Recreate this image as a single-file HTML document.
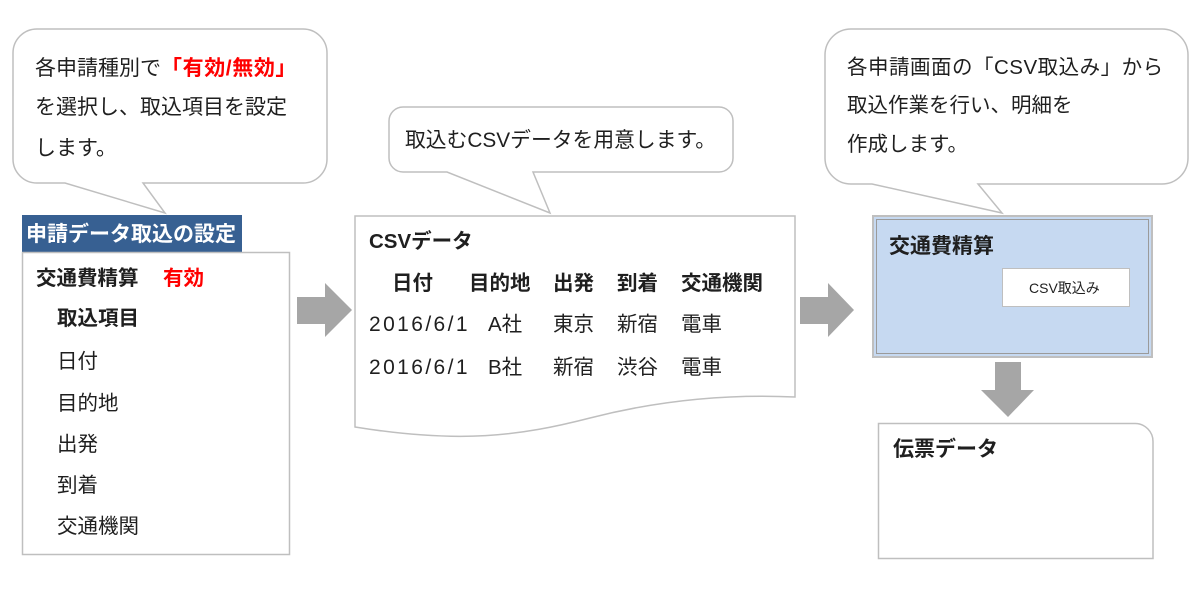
<!DOCTYPE html>
<html>
<head>
<meta charset="utf-8">
<style>
  html, body { margin: 0; padding: 0; background: #ffffff; }
  body { width: 1200px; height: 590px; overflow: hidden; }
  svg { display: block; }
  text { font-family: "Liberation Sans", "Noto Sans CJK JP", sans-serif; fill: #1f1f1f; }
  .b { font-weight: 700; }
  .red { fill: #ff0000; font-weight: 700; }
</style>
</head>
<body>
<svg width="1200" height="590" viewBox="0 0 1200 590" xmlns="http://www.w3.org/2000/svg">
  <!-- Left speech bubble -->
  <path d="M 37 29 H 303 A 24 24 0 0 1 327 53 V 159 A 24 24 0 0 1 303 183 H 143 L 165 213 L 65 183 H 37 A 24 24 0 0 1 13 159 V 53 A 24 24 0 0 1 37 29 Z"
        fill="#ffffff" stroke="#bfbfbf" stroke-width="1.5"/>
  <text x="35" y="75" font-size="21">各申請種別で<tspan class="red" style="letter-spacing:0.6px">「有効/無効」</tspan></text>
  <text x="35" y="114" font-size="21">を選択し、取込項目を設定</text>
  <text x="35" y="155" font-size="21">します。</text>

  <!-- Header -->
  <rect x="22" y="215" width="220" height="37" fill="#376092"/>
  <text x="26" y="241" font-size="21" class="b" style="fill:#ffffff">申請データ取込の設定</text>

  <!-- Left box -->
  <rect x="22.5" y="252.5" width="267" height="302" fill="#ffffff" stroke="#bfbfbf" stroke-width="1.5"/>
  <text x="36" y="285" font-size="20.5" class="b">交通費精算</text>
  <text x="163" y="285" font-size="20.5" class="red">有効</text>
  <text x="57" y="325" font-size="20.5" class="b">取込項目</text>
  <text x="57" y="368" font-size="20.5">日付</text>
  <text x="57" y="410" font-size="20.5">目的地</text>
  <text x="57" y="451" font-size="20.5">出発</text>
  <text x="57" y="492" font-size="20.5">到着</text>
  <text x="57" y="533" font-size="20.5">交通機関</text>

  <!-- Arrow 1 -->
  <polygon points="297,297 325,297 325,283 352,310 325,337 325,324 297,324" fill="#a6a6a6"/>

  <!-- Middle speech bubble -->
  <path d="M 403 107 H 719 A 14 14 0 0 1 733 121 V 158 A 14 14 0 0 1 719 172 H 533 L 550 213 L 447 172 H 403 A 14 14 0 0 1 389 158 V 121 A 14 14 0 0 1 403 107 Z"
        fill="#ffffff" stroke="#bfbfbf" stroke-width="1.5"/>
  <text x="405" y="147" font-size="20.8">取込むCSVデータを用意します。</text>

  <!-- CSV document -->
  <path d="M 355 216 H 795 V 397 C 730 394, 660 400, 590 418 C 520 436, 460 444, 355 427 Z"
        fill="#ffffff" stroke="#bfbfbf" stroke-width="1.5"/>
  <text x="369" y="248" font-size="20.5" class="b">CSVデータ</text>
  <text x="392" y="290" font-size="20.5" class="b">日付</text>
  <text x="469" y="290" font-size="20.5" class="b">目的地</text>
  <text x="553" y="290" font-size="20.5" class="b">出発</text>
  <text x="617" y="290" font-size="20.5" class="b">到着</text>
  <text x="681" y="290" font-size="20.5" class="b">交通機関</text>

  <text x="369" y="331" font-size="21" style="letter-spacing:2.4px">2016/6/1</text>
  <text x="488" y="331" font-size="20.5">A社</text>
  <text x="553" y="331" font-size="20.5">東京</text>
  <text x="617" y="331" font-size="20.5">新宿</text>
  <text x="681" y="331" font-size="20.5">電車</text>

  <text x="369" y="374" font-size="21" style="letter-spacing:2.4px">2016/6/1</text>
  <text x="488" y="374" font-size="20.5">B社</text>
  <text x="553" y="374" font-size="20.5">新宿</text>
  <text x="617" y="374" font-size="20.5">渋谷</text>
  <text x="681" y="374" font-size="20.5">電車</text>

  <!-- Arrow 2 -->
  <polygon points="800,297 828,297 828,283 854,310 828,337 828,324 800,324" fill="#a6a6a6"/>

  <!-- Right speech bubble -->
  <path d="M 851 29 H 1162 A 26 26 0 0 1 1188 55 V 158 A 26 26 0 0 1 1162 184 H 978 L 1002 213 L 872 184 H 851 A 26 26 0 0 1 825 158 V 55 A 26 26 0 0 1 851 29 Z"
        fill="#ffffff" stroke="#bfbfbf" stroke-width="1.5"/>
  <text x="847" y="74" font-size="20.5" style="letter-spacing:0.5px">各申請画面の「CSV取込み」から</text>
  <text x="847" y="112" font-size="20.5">取込作業を行い、明細を</text>
  <text x="847" y="151" font-size="20.5">作成します。</text>

  <!-- Blue screen box -->
  <rect x="873" y="216" width="279" height="141" fill="#c6d9f1" stroke="#bfbfbf" stroke-width="2"/>
  <rect x="876.5" y="219.5" width="272" height="134" fill="none" stroke="#9a9a9a" stroke-width="1"/>
  <text x="889" y="253" font-size="21" class="b">交通費精算</text>
  <rect x="1002.5" y="268.5" width="127" height="38" fill="#ffffff" stroke="#bfbfbf" stroke-width="1"/>
  <text x="1029" y="293" font-size="14">CSV取込み</text>

  <!-- Down arrow -->
  <polygon points="995,362 1021,362 1021,390 1034,390 1008,417 981,390 995,390" fill="#a6a6a6"/>

  <!-- Voucher data box -->
  <path d="M 878.5 423.5 H 1135 A 18 18 0 0 1 1153 441.5 V 558.5 H 878.5 Z"
        fill="#ffffff" stroke="#bfbfbf" stroke-width="1.5"/>
  <text x="893" y="456" font-size="21" class="b">伝票データ</text>
</svg>
</body>
</html>
